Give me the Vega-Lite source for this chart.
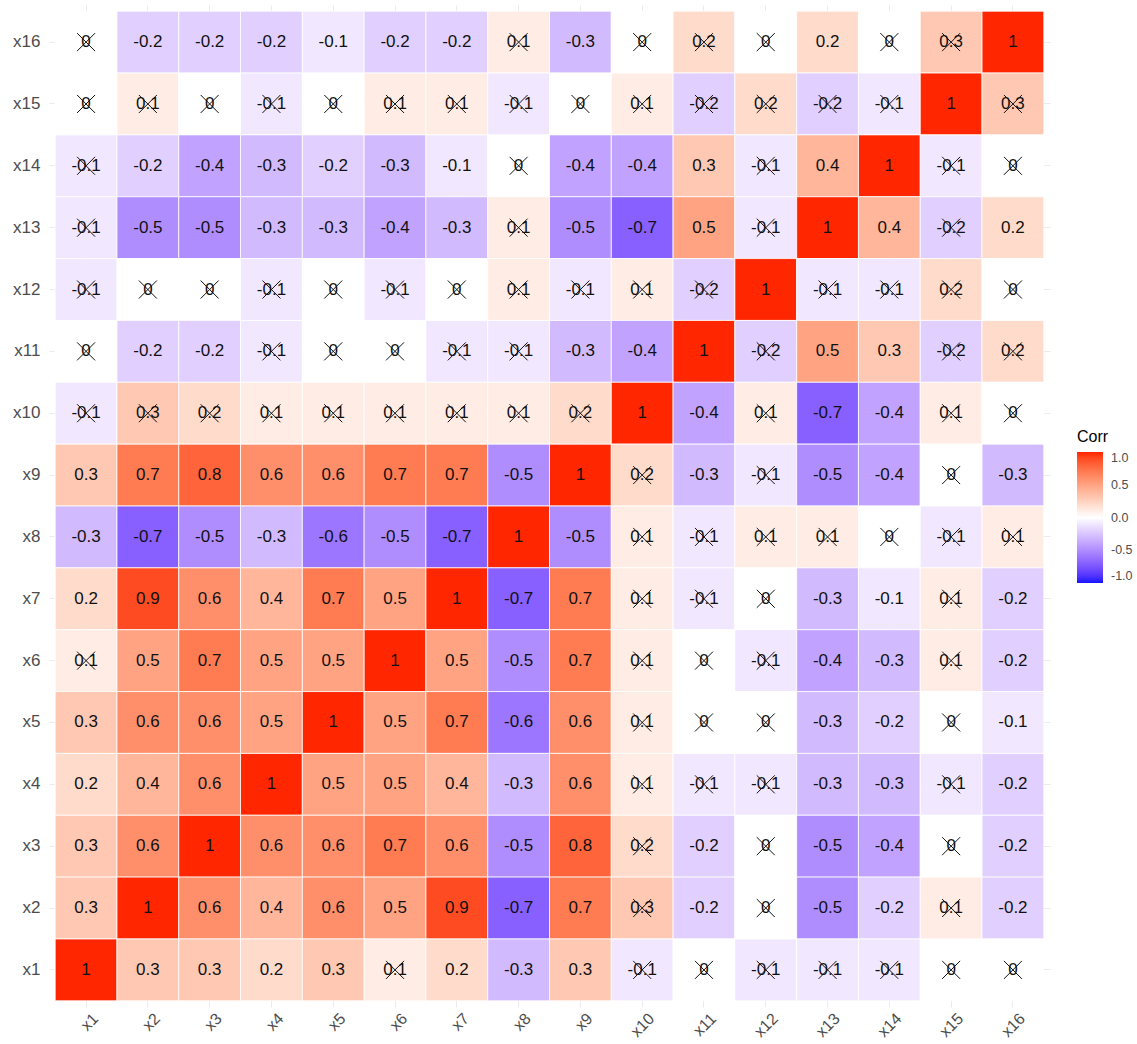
{
  "$schema": "https://vega.github.io/schema/vega-lite/v6.json",
  "width": 1001,
  "height": 1002,
  "autosize": "none",
  "padding": {"left": 49, "top": 5, "right": 87, "bottom": 37},
  "background": "white",
  "config": {
    "view": {"stroke": null},
    "font": "Liberation Sans",
    "axis": {
      "labelFont": "Liberation Sans",
      "labelFontSize": 17,
      "labelColor": "#4D4D4D",
      "domain": false,
      "ticks": false,
      "grid": true,
      "gridColor": "#EBEBEB",
      "gridWidth": 1,
      "title": null,
      "bandPosition": 0.5,
      "zindex": 0
    }
  },
  "data": {
    "values": [
      {"y":"x16","x":"x1","r":0,"n":1},{"y":"x16","x":"x2","r":-0.2,"n":0},{"y":"x16","x":"x3","r":-0.2,"n":0},{"y":"x16","x":"x4","r":-0.2,"n":0},{"y":"x16","x":"x5","r":-0.1,"n":0},{"y":"x16","x":"x6","r":-0.2,"n":0},{"y":"x16","x":"x7","r":-0.2,"n":0},{"y":"x16","x":"x8","r":0.1,"n":1},{"y":"x16","x":"x9","r":-0.3,"n":0},{"y":"x16","x":"x10","r":0,"n":1},{"y":"x16","x":"x11","r":0.2,"n":1},{"y":"x16","x":"x12","r":0,"n":1},{"y":"x16","x":"x13","r":0.2,"n":0},{"y":"x16","x":"x14","r":0,"n":1},{"y":"x16","x":"x15","r":0.3,"n":1},{"y":"x16","x":"x16","r":1,"n":0},
      {"y":"x15","x":"x1","r":0,"n":1},{"y":"x15","x":"x2","r":0.1,"n":1},{"y":"x15","x":"x3","r":0,"n":1},{"y":"x15","x":"x4","r":-0.1,"n":1},{"y":"x15","x":"x5","r":0,"n":1},{"y":"x15","x":"x6","r":0.1,"n":1},{"y":"x15","x":"x7","r":0.1,"n":1},{"y":"x15","x":"x8","r":-0.1,"n":1},{"y":"x15","x":"x9","r":0,"n":1},{"y":"x15","x":"x10","r":0.1,"n":1},{"y":"x15","x":"x11","r":-0.2,"n":1},{"y":"x15","x":"x12","r":0.2,"n":1},{"y":"x15","x":"x13","r":-0.2,"n":1},{"y":"x15","x":"x14","r":-0.1,"n":1},{"y":"x15","x":"x15","r":1,"n":0},{"y":"x15","x":"x16","r":0.3,"n":1},
      {"y":"x14","x":"x1","r":-0.1,"n":1},{"y":"x14","x":"x2","r":-0.2,"n":0},{"y":"x14","x":"x3","r":-0.4,"n":0},{"y":"x14","x":"x4","r":-0.3,"n":0},{"y":"x14","x":"x5","r":-0.2,"n":0},{"y":"x14","x":"x6","r":-0.3,"n":0},{"y":"x14","x":"x7","r":-0.1,"n":0},{"y":"x14","x":"x8","r":0,"n":1},{"y":"x14","x":"x9","r":-0.4,"n":0},{"y":"x14","x":"x10","r":-0.4,"n":0},{"y":"x14","x":"x11","r":0.3,"n":0},{"y":"x14","x":"x12","r":-0.1,"n":1},{"y":"x14","x":"x13","r":0.4,"n":0},{"y":"x14","x":"x14","r":1,"n":0},{"y":"x14","x":"x15","r":-0.1,"n":1},{"y":"x14","x":"x16","r":0,"n":1},
      {"y":"x13","x":"x1","r":-0.1,"n":1},{"y":"x13","x":"x2","r":-0.5,"n":0},{"y":"x13","x":"x3","r":-0.5,"n":0},{"y":"x13","x":"x4","r":-0.3,"n":0},{"y":"x13","x":"x5","r":-0.3,"n":0},{"y":"x13","x":"x6","r":-0.4,"n":0},{"y":"x13","x":"x7","r":-0.3,"n":0},{"y":"x13","x":"x8","r":0.1,"n":1},{"y":"x13","x":"x9","r":-0.5,"n":0},{"y":"x13","x":"x10","r":-0.7,"n":0},{"y":"x13","x":"x11","r":0.5,"n":0},{"y":"x13","x":"x12","r":-0.1,"n":1},{"y":"x13","x":"x13","r":1,"n":0},{"y":"x13","x":"x14","r":0.4,"n":0},{"y":"x13","x":"x15","r":-0.2,"n":1},{"y":"x13","x":"x16","r":0.2,"n":0},
      {"y":"x12","x":"x1","r":-0.1,"n":1},{"y":"x12","x":"x2","r":0,"n":1},{"y":"x12","x":"x3","r":0,"n":1},{"y":"x12","x":"x4","r":-0.1,"n":1},{"y":"x12","x":"x5","r":0,"n":1},{"y":"x12","x":"x6","r":-0.1,"n":1},{"y":"x12","x":"x7","r":0,"n":1},{"y":"x12","x":"x8","r":0.1,"n":1},{"y":"x12","x":"x9","r":-0.1,"n":1},{"y":"x12","x":"x10","r":0.1,"n":1},{"y":"x12","x":"x11","r":-0.2,"n":1},{"y":"x12","x":"x12","r":1,"n":0},{"y":"x12","x":"x13","r":-0.1,"n":1},{"y":"x12","x":"x14","r":-0.1,"n":1},{"y":"x12","x":"x15","r":0.2,"n":1},{"y":"x12","x":"x16","r":0,"n":1},
      {"y":"x11","x":"x1","r":0,"n":1},{"y":"x11","x":"x2","r":-0.2,"n":0},{"y":"x11","x":"x3","r":-0.2,"n":0},{"y":"x11","x":"x4","r":-0.1,"n":1},{"y":"x11","x":"x5","r":0,"n":1},{"y":"x11","x":"x6","r":0,"n":1},{"y":"x11","x":"x7","r":-0.1,"n":1},{"y":"x11","x":"x8","r":-0.1,"n":1},{"y":"x11","x":"x9","r":-0.3,"n":0},{"y":"x11","x":"x10","r":-0.4,"n":0},{"y":"x11","x":"x11","r":1,"n":0},{"y":"x11","x":"x12","r":-0.2,"n":1},{"y":"x11","x":"x13","r":0.5,"n":0},{"y":"x11","x":"x14","r":0.3,"n":0},{"y":"x11","x":"x15","r":-0.2,"n":1},{"y":"x11","x":"x16","r":0.2,"n":1},
      {"y":"x10","x":"x1","r":-0.1,"n":1},{"y":"x10","x":"x2","r":0.3,"n":1},{"y":"x10","x":"x3","r":0.2,"n":1},{"y":"x10","x":"x4","r":0.1,"n":1},{"y":"x10","x":"x5","r":0.1,"n":1},{"y":"x10","x":"x6","r":0.1,"n":1},{"y":"x10","x":"x7","r":0.1,"n":1},{"y":"x10","x":"x8","r":0.1,"n":1},{"y":"x10","x":"x9","r":0.2,"n":1},{"y":"x10","x":"x10","r":1,"n":0},{"y":"x10","x":"x11","r":-0.4,"n":0},{"y":"x10","x":"x12","r":0.1,"n":1},{"y":"x10","x":"x13","r":-0.7,"n":0},{"y":"x10","x":"x14","r":-0.4,"n":0},{"y":"x10","x":"x15","r":0.1,"n":1},{"y":"x10","x":"x16","r":0,"n":1},
      {"y":"x9","x":"x1","r":0.3,"n":0},{"y":"x9","x":"x2","r":0.7,"n":0},{"y":"x9","x":"x3","r":0.8,"n":0},{"y":"x9","x":"x4","r":0.6,"n":0},{"y":"x9","x":"x5","r":0.6,"n":0},{"y":"x9","x":"x6","r":0.7,"n":0},{"y":"x9","x":"x7","r":0.7,"n":0},{"y":"x9","x":"x8","r":-0.5,"n":0},{"y":"x9","x":"x9","r":1,"n":0},{"y":"x9","x":"x10","r":0.2,"n":1},{"y":"x9","x":"x11","r":-0.3,"n":0},{"y":"x9","x":"x12","r":-0.1,"n":1},{"y":"x9","x":"x13","r":-0.5,"n":0},{"y":"x9","x":"x14","r":-0.4,"n":0},{"y":"x9","x":"x15","r":0,"n":1},{"y":"x9","x":"x16","r":-0.3,"n":0},
      {"y":"x8","x":"x1","r":-0.3,"n":0},{"y":"x8","x":"x2","r":-0.7,"n":0},{"y":"x8","x":"x3","r":-0.5,"n":0},{"y":"x8","x":"x4","r":-0.3,"n":0},{"y":"x8","x":"x5","r":-0.6,"n":0},{"y":"x8","x":"x6","r":-0.5,"n":0},{"y":"x8","x":"x7","r":-0.7,"n":0},{"y":"x8","x":"x8","r":1,"n":0},{"y":"x8","x":"x9","r":-0.5,"n":0},{"y":"x8","x":"x10","r":0.1,"n":1},{"y":"x8","x":"x11","r":-0.1,"n":1},{"y":"x8","x":"x12","r":0.1,"n":1},{"y":"x8","x":"x13","r":0.1,"n":1},{"y":"x8","x":"x14","r":0,"n":1},{"y":"x8","x":"x15","r":-0.1,"n":1},{"y":"x8","x":"x16","r":0.1,"n":1},
      {"y":"x7","x":"x1","r":0.2,"n":0},{"y":"x7","x":"x2","r":0.9,"n":0},{"y":"x7","x":"x3","r":0.6,"n":0},{"y":"x7","x":"x4","r":0.4,"n":0},{"y":"x7","x":"x5","r":0.7,"n":0},{"y":"x7","x":"x6","r":0.5,"n":0},{"y":"x7","x":"x7","r":1,"n":0},{"y":"x7","x":"x8","r":-0.7,"n":0},{"y":"x7","x":"x9","r":0.7,"n":0},{"y":"x7","x":"x10","r":0.1,"n":1},{"y":"x7","x":"x11","r":-0.1,"n":1},{"y":"x7","x":"x12","r":0,"n":1},{"y":"x7","x":"x13","r":-0.3,"n":0},{"y":"x7","x":"x14","r":-0.1,"n":0},{"y":"x7","x":"x15","r":0.1,"n":1},{"y":"x7","x":"x16","r":-0.2,"n":0},
      {"y":"x6","x":"x1","r":0.1,"n":1},{"y":"x6","x":"x2","r":0.5,"n":0},{"y":"x6","x":"x3","r":0.7,"n":0},{"y":"x6","x":"x4","r":0.5,"n":0},{"y":"x6","x":"x5","r":0.5,"n":0},{"y":"x6","x":"x6","r":1,"n":0},{"y":"x6","x":"x7","r":0.5,"n":0},{"y":"x6","x":"x8","r":-0.5,"n":0},{"y":"x6","x":"x9","r":0.7,"n":0},{"y":"x6","x":"x10","r":0.1,"n":1},{"y":"x6","x":"x11","r":0,"n":1},{"y":"x6","x":"x12","r":-0.1,"n":1},{"y":"x6","x":"x13","r":-0.4,"n":0},{"y":"x6","x":"x14","r":-0.3,"n":0},{"y":"x6","x":"x15","r":0.1,"n":1},{"y":"x6","x":"x16","r":-0.2,"n":0},
      {"y":"x5","x":"x1","r":0.3,"n":0},{"y":"x5","x":"x2","r":0.6,"n":0},{"y":"x5","x":"x3","r":0.6,"n":0},{"y":"x5","x":"x4","r":0.5,"n":0},{"y":"x5","x":"x5","r":1,"n":0},{"y":"x5","x":"x6","r":0.5,"n":0},{"y":"x5","x":"x7","r":0.7,"n":0},{"y":"x5","x":"x8","r":-0.6,"n":0},{"y":"x5","x":"x9","r":0.6,"n":0},{"y":"x5","x":"x10","r":0.1,"n":1},{"y":"x5","x":"x11","r":0,"n":1},{"y":"x5","x":"x12","r":0,"n":1},{"y":"x5","x":"x13","r":-0.3,"n":0},{"y":"x5","x":"x14","r":-0.2,"n":0},{"y":"x5","x":"x15","r":0,"n":1},{"y":"x5","x":"x16","r":-0.1,"n":0},
      {"y":"x4","x":"x1","r":0.2,"n":0},{"y":"x4","x":"x2","r":0.4,"n":0},{"y":"x4","x":"x3","r":0.6,"n":0},{"y":"x4","x":"x4","r":1,"n":0},{"y":"x4","x":"x5","r":0.5,"n":0},{"y":"x4","x":"x6","r":0.5,"n":0},{"y":"x4","x":"x7","r":0.4,"n":0},{"y":"x4","x":"x8","r":-0.3,"n":0},{"y":"x4","x":"x9","r":0.6,"n":0},{"y":"x4","x":"x10","r":0.1,"n":1},{"y":"x4","x":"x11","r":-0.1,"n":1},{"y":"x4","x":"x12","r":-0.1,"n":1},{"y":"x4","x":"x13","r":-0.3,"n":0},{"y":"x4","x":"x14","r":-0.3,"n":0},{"y":"x4","x":"x15","r":-0.1,"n":1},{"y":"x4","x":"x16","r":-0.2,"n":0},
      {"y":"x3","x":"x1","r":0.3,"n":0},{"y":"x3","x":"x2","r":0.6,"n":0},{"y":"x3","x":"x3","r":1,"n":0},{"y":"x3","x":"x4","r":0.6,"n":0},{"y":"x3","x":"x5","r":0.6,"n":0},{"y":"x3","x":"x6","r":0.7,"n":0},{"y":"x3","x":"x7","r":0.6,"n":0},{"y":"x3","x":"x8","r":-0.5,"n":0},{"y":"x3","x":"x9","r":0.8,"n":0},{"y":"x3","x":"x10","r":0.2,"n":1},{"y":"x3","x":"x11","r":-0.2,"n":0},{"y":"x3","x":"x12","r":0,"n":1},{"y":"x3","x":"x13","r":-0.5,"n":0},{"y":"x3","x":"x14","r":-0.4,"n":0},{"y":"x3","x":"x15","r":0,"n":1},{"y":"x3","x":"x16","r":-0.2,"n":0},
      {"y":"x2","x":"x1","r":0.3,"n":0},{"y":"x2","x":"x2","r":1,"n":0},{"y":"x2","x":"x3","r":0.6,"n":0},{"y":"x2","x":"x4","r":0.4,"n":0},{"y":"x2","x":"x5","r":0.6,"n":0},{"y":"x2","x":"x6","r":0.5,"n":0},{"y":"x2","x":"x7","r":0.9,"n":0},{"y":"x2","x":"x8","r":-0.7,"n":0},{"y":"x2","x":"x9","r":0.7,"n":0},{"y":"x2","x":"x10","r":0.3,"n":1},{"y":"x2","x":"x11","r":-0.2,"n":0},{"y":"x2","x":"x12","r":0,"n":1},{"y":"x2","x":"x13","r":-0.5,"n":0},{"y":"x2","x":"x14","r":-0.2,"n":0},{"y":"x2","x":"x15","r":0.1,"n":1},{"y":"x2","x":"x16","r":-0.2,"n":0},
      {"y":"x1","x":"x1","r":1,"n":0},{"y":"x1","x":"x2","r":0.3,"n":0},{"y":"x1","x":"x3","r":0.3,"n":0},{"y":"x1","x":"x4","r":0.2,"n":0},{"y":"x1","x":"x5","r":0.3,"n":0},{"y":"x1","x":"x6","r":0.1,"n":1},{"y":"x1","x":"x7","r":0.2,"n":0},{"y":"x1","x":"x8","r":-0.3,"n":0},{"y":"x1","x":"x9","r":0.3,"n":0},{"y":"x1","x":"x10","r":-0.1,"n":1},{"y":"x1","x":"x11","r":0,"n":1},{"y":"x1","x":"x12","r":-0.1,"n":1},{"y":"x1","x":"x13","r":-0.1,"n":1},{"y":"x1","x":"x14","r":-0.1,"n":1},{"y":"x1","x":"x15","r":0,"n":1},{"y":"x1","x":"x16","r":0,"n":1}
    ]
  },
  "encoding": {
    "x": {
      "field": "x", "type": "nominal",
      "scale": {"domain": ["x1","x2","x3","x4","x5","x6","x7","x8","x9","x10","x11","x12","x13","x14","x15","x16"], "paddingInner": 0, "paddingOuter": 0.1},
      "axis": {"labelAngle": -45, "labelAlign": "right", "labelBaseline": "top", "labelPadding": 3, "labelOffset": 4, "labelFontSize": 16, "zindex": 0}
    },
    "y": {
      "field": "y", "type": "nominal",
      "scale": {"domain": ["x16","x15","x14","x13","x12","x11","x10","x9","x8","x7","x6","x5","x4","x3","x2","x1"], "paddingInner": 0, "paddingOuter": 0.1},
      "axis": {"labelPadding": 9, "zindex": 0}
    }
  },
  "layer": [
    {
      "mark": {"type": "rect", "stroke": "white", "strokeWidth": 0.8, "opacity": 1},
      "encoding": {
        "color": {
          "field": "r", "type": "quantitative",
          "scale": {"domain": [-1, 0, 1], "range": ["#1414FF", "#FFFFFF", "#FF2600"], "interpolate": "lab"},
          "legend": {
            "orient": "none", "legendX": 1028, "legendY": 424, "padding": 0,
            "title": "Corr", "titleFont": "Liberation Sans", "titleFontSize": 16, "titleFontWeight": "normal", "titleColor": "#000000", "titlePadding": 7,
            "gradientLength": 131, "gradientThickness": 26, "gradientStrokeWidth": 0,
            "labelFont": "Liberation Sans", "labelFontSize": 12.5, "labelColor": "#4D4D4D", "labelOffset": 8,
            "values": [1, 0.5, 0, -0.5, -1],
            "labelExpr": "datum.value < 0 ? '-' + format(-datum.value, '.1f') : format(datum.value, '.1f')"
          }
        }
      }
    },
    {
      "mark": {"type": "text", "font": "Liberation Sans", "fontSize": 17, "color": "#111111"},
      "encoding": {"text": {"field": "r", "type": "nominal"}}
    },
    {
      "transform": [{"filter": "datum.n == 1"}],
      "mark": {"type": "point", "shape": "M-1,-1L1,1M-1,1L1,-1", "size": 324, "filled": false, "stroke": "#111111", "strokeWidth": 1, "opacity": 1},
      "encoding": {}
    }
  ]
}
